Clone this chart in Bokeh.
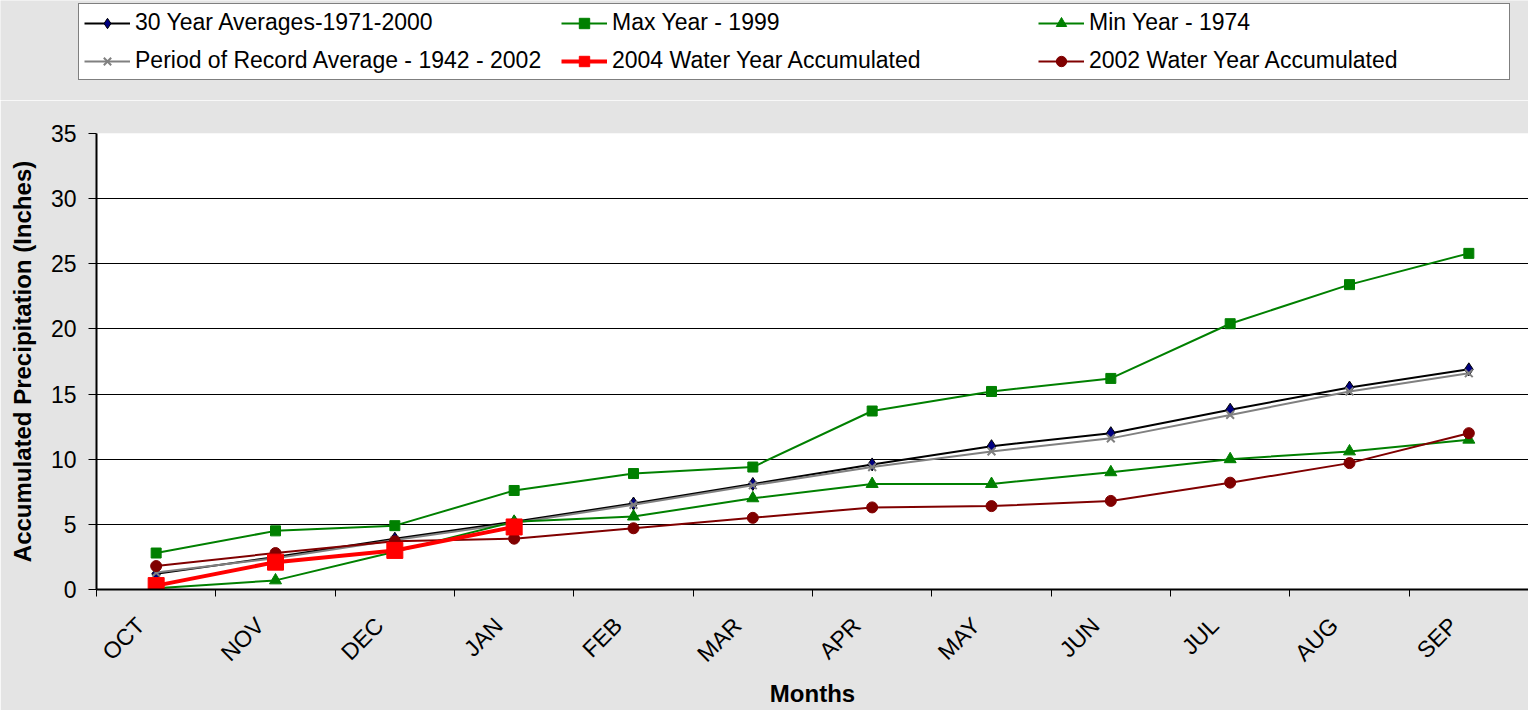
from bokeh.plotting import figure
from bokeh.models import FixedTicker, Legend, LegendItem, Range1d
from bokeh.layouts import column
from bokeh.embed import file_html
from bokeh.resources import INLINE
import math

months = ["OCT", "NOV", "DEC", "JAN", "FEB", "MAR", "APR", "MAY", "JUN", "JUL", "AUG", "SEP"]
avg_30yr = [1.2, 2.5, 3.9, 5.2, 6.6, 8.1, 9.6, 11.0, 12.0, 13.8, 15.5, 16.9]
por_avg = [1.3, 2.4, 3.8, 5.1, 6.5, 8.0, 9.4, 10.6, 11.6, 13.4, 15.2, 16.6]
max_1999 = [2.8, 4.5, 4.9, 7.6, 8.9, 9.4, 13.7, 15.2, 16.2, 20.4, 23.4, 25.8]
min_1974 = [0.1, 0.7, 2.9, 5.2, 5.6, 7.0, 8.1, 8.1, 9.0, 10.0, 10.6, 11.5]
wy_2004 = [0.3, 2.1, 3.0, 4.8]
wy_2002 = [1.8, 2.8, 3.7, 3.9, 4.7, 5.5, 6.3, 6.4, 6.8, 8.2, 9.7, 12.0]
y_ticks = [0, 5, 10, 15, 20, 25, 30, 35]

x = [i + 0.5 for i in range(len(months))]
x04 = x[:len(wy_2004)]
label_pos = [xi - 0.13 for xi in x]   # Excel-style label anchoring, slightly left of centre

BG = "#e4e4e4"
FONT = "Liberation Sans"

styles = {
    "avg": dict(line_color="black", line_width=2, marker="diamond", size=13, fill_color="#000080", mline="black", mwidth=1),
    "por": dict(line_color="#808080", line_width=2, marker="x", size=11, fill_color="#808080", mline="#808080", mwidth=2),
    "max": dict(line_color="#008000", line_width=2, marker="square", size=10, fill_color="#008000", mline="#008000", mwidth=1),
    "min": dict(line_color="#008000", line_width=2, marker="triangle", size=12, fill_color="#008000", mline="#008000", mwidth=1),
    "w04": dict(line_color="#ff0000", line_width=4, marker="square", size=16, fill_color="#ff0000", mline="#ff0000", mwidth=1),
    "w02": dict(line_color="#800000", line_width=2, marker="circle", size=11, fill_color="#800000", mline="#800000", mwidth=1),
}


def draw(fig, key, xs, ys):
    s = styles[key]
    rl = fig.line(xs, ys, line_color=s["line_color"], line_width=s["line_width"])
    rm = fig.scatter(xs, ys, marker=s["marker"], size=s["size"], fill_color=s["fill_color"],
                     line_color=s["mline"], line_width=s["mwidth"])
    return [rl, rm]


def no_align(fig):
    if "frame_align" in fig.properties():
        fig.frame_align = False


# ---------- main chart ----------
p = figure(width=1528, height=610, output_backend="svg", toolbar_location=None,
           x_range=Range1d(0, 12), y_range=Range1d(0, 35),
           min_border_left=96, min_border_right=0, min_border_top=33, min_border_bottom=120)
p.background_fill_color = "white"
p.border_fill_color = BG
p.outline_line_color = None
no_align(p)

p.xaxis.ticker = FixedTicker(ticks=label_pos, minor_ticks=list(range(13)))
p.xaxis.major_label_overrides = {xi: m for xi, m in zip(label_pos, months)}
p.xaxis.major_tick_line_color = None
p.xaxis.minor_tick_line_color = "black"
p.xaxis.minor_tick_out = 7
p.xaxis.minor_tick_in = 0
p.xaxis.major_label_orientation = math.pi / 4
p.xaxis.major_label_standoff = 25
p.xaxis.axis_label = "Months"
p.xaxis.axis_label_standoff = 1
p.yaxis.ticker = FixedTicker(ticks=y_ticks)
p.yaxis.minor_tick_line_color = None
p.yaxis.major_tick_out = 8
p.yaxis.major_tick_in = 0
p.yaxis.axis_label = "Accumulated Precipitation (Inches)"
p.yaxis.axis_label_standoff = 12
p.yaxis.major_label_standoff = 12
for ax in (p.xaxis, p.yaxis):
    ax.axis_line_color = "black"
    ax.axis_line_width = 2
    ax.major_tick_line_width = 1
    ax.major_label_text_font = FONT
    ax.major_label_text_font_size = "23px"
    ax.major_label_text_color = "black"
    ax.axis_label_text_font = FONT
    ax.axis_label_text_font_size = "24px"
    ax.axis_label_text_font_style = "bold"
    ax.axis_label_text_color = "black"

p.xgrid.grid_line_color = None
p.ygrid.ticker = FixedTicker(ticks=y_ticks[1:])
p.ygrid.grid_line_color = "black"
p.ygrid.grid_line_width = 1

draw(p, "avg", x, avg_30yr)
draw(p, "por", x, por_avg)
draw(p, "max", x, max_1999)
draw(p, "min", x, min_1974)
draw(p, "w02", x, wy_2002)
draw(p, "w04", x04, wy_2004)

# ---------- legend strip (series drawn off-range, only their legend glyphs show) ----------
lg = figure(width=1528, height=100, output_backend="svg", toolbar_location=None,
            x_range=Range1d(1000, 1001), y_range=Range1d(1000, 1001),
            x_axis_location=None, y_axis_location=None,
            min_border_left=0, min_border_right=0, min_border_top=0, min_border_bottom=0)
lg.background_fill_color = BG
lg.border_fill_color = BG
lg.outline_line_color = None
lg.grid.visible = False
no_align(lg)

series = [
    ("30 Year Averages-1971-2000", "avg", x, avg_30yr),
    ("Max Year - 1999", "max", x, max_1999),
    ("Min Year - 1974", "min", x, min_1974),
    ("Period of Record Average - 1942 - 2002", "por", x, por_avg),
    ("2004 Water Year Accumulated", "w04", x04, wy_2004),
    ("2002 Water Year Accumulated", "w02", x, wy_2002),
]
items = [LegendItem(label=lab, renderers=draw(lg, key, xs, ys)) for lab, key, xs, ys in series]
legend = Legend(items=items, location=(78, 20), orientation="horizontal", ncols=3,
                label_text_font=FONT, label_text_font_size="23px", label_text_color="black",
                glyph_width=46, glyph_height=26, label_width=415, label_height=26,
                spacing=11, padding=5, margin=0, label_standoff=5,
                border_line_color="black", border_line_width=1,
                background_fill_color="white", background_fill_alpha=1.0)
lg.add_layout(legend, "center")

page = column(lg, p, spacing=0)
open("out.html", "w").write(file_html(page, INLINE))
